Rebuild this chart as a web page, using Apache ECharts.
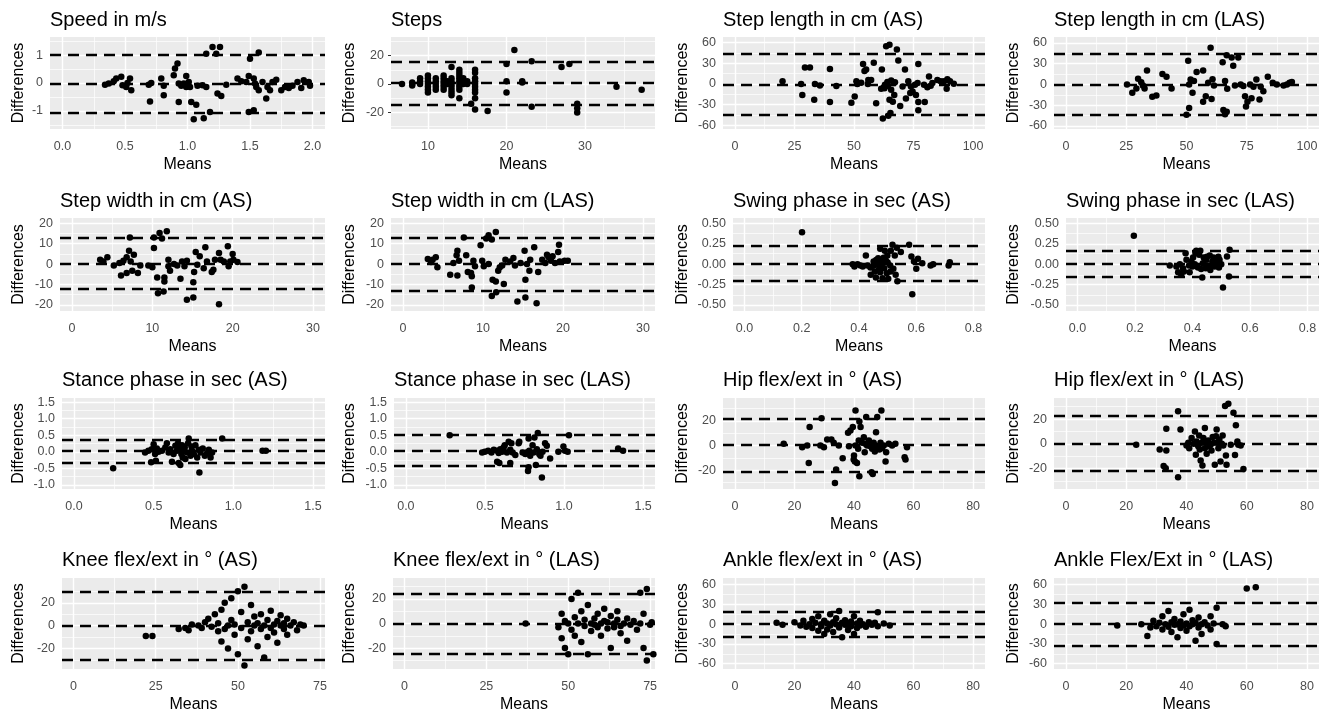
<!DOCTYPE html>
<html><head><meta charset="utf-8">
<script src="https://cdn.jsdelivr.net/npm/echarts@6/dist/echarts.min.js"></script>
<style>html,body{margin:0;padding:0;background:#fff}#c{width:1321px;height:713px}</style>
</head><body><div id="c"></div>
<script>
// ---------------- DATA ----------------
const titles = ["Speed in m/s","Steps","Step length in cm (AS)","Step length in cm (LAS)",
  "Step width in cm (AS)","Step width in cm (LAS)","Swing phase in sec (AS)","Swing phase in sec (LAS)",
  "Stance phase in sec (AS)","Stance phase in sec (LAS)","Hip flex/ext in ° (AS)","Hip flex/ext in ° (LAS)",
  "Knee flex/ext in ° (AS)","Knee flex/ext in ° (LAS)","Ankle flex/ext in ° (AS)","Ankle Flex/Ext in ° (LAS)"];

const xTicks = [[0,0.5,1,1.5,2],[10,20,30],[0,25,50,75,100],[0,25,50,75,100],
  [0,10,20,30],[0,10,20,30],[0,0.2,0.4,0.6,0.8],[0,0.2,0.4,0.6,0.8],
  [0,0.5,1,1.5],[0,0.5,1,1.5],[0,20,40,60,80],[0,20,40,60,80],
  [0,25,50,75],[0,25,50,75],[0,20,40,60,80],[0,20,40,60,80]];
const yTicks = [[-1,0,1],[-20,0,20],[-60,-30,0,30,60],[-60,-30,0,30,60],
  [-20,-10,0,10,20],[-20,-10,0,10,20],[-0.5,-0.25,0,0.25,0.5],[-0.5,-0.25,0,0.25,0.5],
  [-1,-0.5,0,0.5,1,1.5],[-1,-0.5,0,0.5,1,1.5],[-20,0,20],[-20,0,20],
  [-20,0,20],[-20,0,20],[-60,-30,0,30,60],[-60,-30,0,30,60]];
const xDecimals = [1,0,0,0,0,0,1,1,1,1,0,0,0,0,0,0];
const yDecimals = [0,0,0,0,0,0,2,2,1,1,0,0,0,0,0,0];
const xRanges = [[-0.1,2.1],[5.3,38.9],[-5,105],[-5,105],[-1.5,31.5],[-1.5,31.5],[-0.04,0.84],[-0.04,0.84],
  [-0.075,1.575],[-0.075,1.575],[-4,84],[-4,84],[-3.5,76.5],[-3.5,76.5],[-4,84],[-4,84]];
const yRanges = [[-1.65,1.65],[-31.7,33.1],[-65.3,68.3],[-64.5,68.5],[-23,22.6],[-23,22.6],[-0.574,0.566],[-0.574,0.566],
  [-1.125,1.625],[-1.125,1.625],[-35.4,38.7],[-36.5,37],[-38,41.7],[-37,37],[-68,70],[-68,70]];
// limits of agreement: upper, mean, lower
const loa = [[1.02,-0.03,-1.08],[15.6,0.6,-14.4],[43.5,-0.5,-44.5],[44,0,-44],
  [13.0,0.4,-12.2],[13.1,0.1,-12.9],[0.23,0.012,-0.205],[0.175,0.012,-0.15],
  [0.37,0.02,-0.33],[0.5,0.03,-0.43],[22,0.35,-21.3],[22.4,0.4,-21.6],
  [29.5,0,-29.5],[24.5,0,-24.5],[19.5,0,-19.5],[32,0,-32]];

// [mean, difference] pairs
const speed = [[0.34,-0.06],[0.37,-0.02],[0.41,0.06],[0.43,0.16],[0.47,0.22],[0.48,-0.08],[0.51,-0.14],[0.52,0.0],[0.54,0.16],[0.55,-0.26],
 [0.69,-0.06],[0.70,-0.66],[0.71,0.0],[0.79,0.16],[0.81,-0.10],[0.81,-0.44],[0.89,0.28],[0.90,0.52],[0.92,0.70],[0.93,-0.68],
 [0.93,-0.02],[0.95,-0.10],[0.97,-0.02],[0.99,0.25],[0.99,-0.14],[1.01,0.04],[1.02,-0.14],[1.03,-0.68],[1.05,-1.30],[1.07,-0.78],
 [1.08,-0.10],[1.12,-0.08],[1.13,-1.26],[1.15,-0.14],[1.15,1.05],[1.18,-1.04],[1.20,1.29],[1.23,1.05],[1.24,-0.38],[1.26,1.29],
 [1.27,-0.47],[1.31,-0.06],[1.40,0.16],[1.43,0.06],[1.47,0.04],[1.49,0.25],[1.50,0.87],[1.49,-1.04],[1.53,0.16],[1.53,-0.98],
 [1.54,-0.02],[1.55,-0.14],[1.57,1.09],[1.57,-0.26],[1.60,0.04],[1.63,-0.56],[1.64,-0.14],[1.66,-0.26],[1.68,0.04],[1.71,0.12],
 [1.75,-0.26],[1.78,-0.14],[1.81,-0.18],[1.84,-0.10],[1.88,0.04],[1.91,-0.18],[1.93,0.10],[1.97,0.04],[1.98,-0.10]];
const steps = [[6.7,0],[8,1],[8,-1],[8,0],[9,4],[9,0],[9,2],[10,6],[10,4],[10,2],[10,0],[10,-2],[10,-4],[10,-6],
 [11,4],[11,2],[11,0],[11,-2],[11,-4],[12,6],[12,4],[12,2],[12,0],[12,-2],[12,-4],[12.5,2],[12.5,0],
 [13,12],[13,4],[13,2],[13,0],[13,-2],[13,-4],[13,-6],[13,-8],[14,10],[14,8],[14,6],[14,4],[14,2],[14,0],[14,-2],[14,-4],[14,-10],
 [14.5,4],[14.5,0],[15,2],[15,0],[15.5,-14],[16,10],[16,8],[16,4],[16,2],[16,0],[16,-2],[16,-4],[16,-6],[16,-10],[16,-18],
 [17.6,-19],[20,14],[20,2],[20,-6],[21,24],[22,2],[22,1],[23.2,16],[23.2,-16],[27,12],[28,14],[29,-14],[29,-17],[29,-20],[34,-2],[37.2,-4]];
const stepLenAS = [[20,4],[27.8,0],[28.3,-16],[29.4,24],[31.5,24],[33.3,-23],[33.6,0],[35.7,-2],[39.9,22],[39.9,-26],[42.6,-3],[48.9,-27],
 [50.3,-18],[51,4],[51.4,0],[53,2],[53.8,29],[54.4,19],[55.1,21],[55.8,0],[56,6],[57.2,6],[58.3,31],[59.3,-28],[61.7,21],[61.4,-7],
 [62.1,-50],[62.5,-4.5],[63.5,55],[64.2,-2.5],[64.4,-46],[64.9,57],[64.9,-23],[65.3,-42],[65.6,5],[65.6,-8.4],[66.3,-25.7],[66.7,1.5],
 [66.9,-16],[67.2,2.5],[68,50],[68.6,34],[69.4,-32],[70.4,-3.5],[71.4,21],[71.8,-21],[72.8,4],[73.6,-13],[73.9,-3.5],[74.6,-10.9],
 [75.6,-1],[76,-16],[77,29],[77,-26],[77,-38],[76.7,1.5],[79.4,-1],[79.7,-26],[80.8,-4.5],[81.5,11],[82.2,-2.5],[82.9,1.5],[85,6],
 [86.4,4],[87.8,4],[88.9,-7],[89.2,7],[90.3,4],[91.9,0.5],[63,-1],[64,3],[62.8,-6]];
const stepLenLAS = [[25.3,0],[27.5,-12],[29.2,-6],[29.9,8],[31.2,3],[31.9,-1.5],[32.6,-6],[33.6,20],[35.8,-18],[37.5,-16],[40,15],[41.7,11],
 [43.8,-6],[50,-44],[50.7,34],[51.1,-34],[51.1,0],[51.7,7],[52.5,-12],[53.1,4.9],[54.2,18],[56.9,20],[56.9,-25],[58,-17],[59,2.5],
 [60,53],[60.4,-21],[60.8,7.4],[61.4,-1.5],[65,32],[65.3,-37],[66,-43],[66.7,-39.4],[66,4.9],[66.7,42],[66.9,-6.4],[68.75,39],
 [69.4,27],[70.1,-1.5],[71.5,39],[72.5,0],[73.6,-2.5],[74.3,-17],[74.7,-32],[75.3,-25],[76.4,0],[77,-20],[77.8,-3.4],[79,7],
 [80.3,-22],[80.8,-3.4],[81.9,-9.9],[83.75,11],[85.8,2.5],[87.5,0],[90.3,-1.5],[91.7,0],[92.8,2.5],[93.75,3.4]];
const stepWidthAS = [[3.5,2.1],[3.9,1.3],[4.4,3.3],[5.2,-0.7],[5.9,0.5],[6.1,-5.6],[6.4,1.6],[6.8,3.3],[6.8,-4.4],[7.1,6.6],[7.2,13.1],
 [7.3,1.3],[7.5,-3.3],[7.7,4.6],[8.2,-4.4],[8.5,-0.7],[9.5,-0.7],[10,-1.6],[10.2,7.9],[10.2,13.1],[10.6,-6.6],[10.7,-14.3],[10.9,15.2],
 [11.2,12.5],[11.4,-13.4],[11.5,-8.5],[11.5,-6.6],[11.8,16.1],[12,2.1],[12,-1.1],[12.2,-3.3],[12.7,0],[13.1,-0.7],[13.5,-7.2],[13.7,1.3],
 [14,-1.1],[14.3,1.6],[14.3,-17.5],[15.1,-16.4],[15.1,-8.9],[15.2,-3.9],[15.4,5.9],[15.6,-0.3],[15.9,3.8],[16.4,-2],[16.6,8.2],[16.8,1.3],
 [17.4,-3.9],[17.6,-2.8],[17.8,2.1],[18.3,5.4],[18.3,-19.7],[18.5,2.1],[18.9,1.3],[19.4,8.7],[19.5,-1.1],[19.7,1.3],[20,4.9],[20.1,2.1],[20.6,1]];
const stepWidthLAS = [[3.1,2.5],[3.5,1],[3.7,2.1],[4.1,3.3],[4.3,-1.6],[5.9,-5.2],[6.3,0.5],[6.7,4.3],[6.8,6.6],[6.8,-5.6],[7,1.6],[7.6,13.1],
 [7.9,4.3],[8.1,-3.9],[8.5,-4.4],[8.6,-6],[8.6,-11.5],[8.8,1.6],[9,-1.1],[9.7,9.2],[9.9,1.6],[10.1,-1.1],[10.4,12.5],[10.7,14.1],[10.7,0],
 [11.1,12],[11.1,-15.6],[11.2,-7.7],[11.6,-8.5],[11.6,15.7],[11.65,-13.8],[11.9,-3.3],[12.1,-1.6],[12.4,-0.7],[12.6,-9.8],[12.8,2.1],
 [13.4,1.3],[13.8,3],[14,-0.7],[14.3,-18.4],[14.7,0.5],[15.3,-16.4],[15.3,-7.7],[15.2,6.6],[15.5,0],[15.8,-3.3],[15.9,2.1],[16.4,8.2],
 [16.7,-19.2],[16.9,-3.9],[17.4,2.1],[17.8,0.5],[18,4.6],[18.2,3.3],[18.5,1.6],[18.7,3.8],[19,0.5],[19.4,5.9],[19.5,9.5],[19.6,1.3],[20.2,1.6],[20.6,1.6]];
const swingAS = [[0.201,0.39],[0.378,0],[0.384,-0.029],[0.395,0],[0.405,-0.016],[0.413,-0.029],[0.424,0.107],[0.43,-0.016],[0.44,-0.04],
 [0.441,-0.13],[0.451,0.033],[0.455,-0.09],[0.459,-0.164],[0.465,0],[0.467,0.074],[0.474,0.19],[0.474,-0.098],[0.479,0],[0.482,-0.172],
 [0.486,0.08],[0.488,-0.049],[0.49,0.164],[0.494,0.041],[0.497,-0.111],[0.499,0.107],[0.502,-0.18],[0.509,-0.016],[0.511,0.164],
 [0.517,0.238],[0.52,-0.057],[0.525,0.107],[0.528,-0.131],[0.532,0.2],[0.534,-0.21],[0.546,0.148],[0.575,0.238],[0.583,0.094],
 [0.586,-0.37],[0.592,0.033],[0.6,-0.057],[0.606,0.066],[0.621,0.012],[0.65,-0.016],[0.659,0],[0.713,-0.016],[0.717,0.025],
 [0.46,0.05],[0.47,-0.06],[0.48,0.03],[0.5,0.02],[0.51,-0.09],[0.45,-0.02]];
const swingLAS = [[0.196,0.348],[0.321,-0.016],[0.344,-0.029],[0.356,0],[0.361,-0.13],[0.367,-0.049],[0.376,0.135],[0.379,0.053],
 [0.388,-0.016],[0.39,-0.1],[0.396,0.033],[0.402,0.082],[0.408,0],[0.413,0.164],[0.419,-0.041],[0.423,0.115],[0.427,0.164],
 [0.434,-0.164],[0.436,0.012],[0.439,0.082],[0.446,-0.049],[0.448,0.053],[0.454,-0.016],[0.46,0.107],[0.462,-0.07],[0.469,0.033],
 [0.473,0.082],[0.477,-0.029],[0.483,0.066],[0.488,0.012],[0.492,-0.041],[0.494,0.053],[0.5,0],[0.506,-0.287],[0.52,0.094],
 [0.529,0.176],[0.527,-0.152],[0.37,-0.09],[0.35,-0.1],[0.41,0.14],[0.43,-0.06],[0.45,0.09],[0.47,-0.02],[0.49,0.09],[0.4,-0.03]];
const stanceAS = [[0.246,-0.5],[0.446,-0.02],[0.467,0.03],[0.484,-0.32],[0.488,0.08],[0.5,0.23],[0.509,-0.07],[0.514,-0.27],[0.52,0.1],
 [0.531,0],[0.552,0.03],[0.573,0.13],[0.583,0.26],[0.594,-0.02],[0.604,0.08],[0.615,-0.3],[0.625,-0.07],[0.636,0.18],[0.646,0.03],
 [0.653,0.26],[0.657,-0.34],[0.661,0.1],[0.667,-0.4],[0.674,-0.07],[0.678,0.2],[0.682,-0.17],[0.688,0.03],[0.695,0.13],[0.699,-0.22],
 [0.709,-0.02],[0.716,0.26],[0.72,0.4],[0.731,-0.12],[0.737,0.16],[0.741,0.03],[0.752,-0.07],[0.762,0.2],[0.773,-0.17],[0.783,0.06],
 [0.787,-0.63],[0.794,-0.02],[0.808,0.1],[0.821,-0.12],[0.836,-0.04],[0.846,0.06],[0.857,-0.17],[0.867,-0.02],[0.93,0.4],[1.183,0.03],[1.204,0.03]];
const stanceLAS = [[0.277,0.5],[0.482,-0.02],[0.499,0],[0.52,0.03],[0.541,-0.02],[0.556,0.06],[0.577,0.03],[0.577,-0.3],[0.587,-0.04],
 [0.597,0.08],[0.591,-0.34],[0.608,0],[0.618,0.13],[0.625,0.2],[0.639,-0.02],[0.66,0.06],[0.66,-0.34],[0.65,0.3],[0.667,0.26],
 [0.675,-0.02],[0.692,-0.1],[0.713,0.26],[0.717,0.3],[0.738,-0.02],[0.755,-0.07],[0.765,-0.02],[0.772,-0.58],[0.776,-0.47],[0.776,0.4],
 [0.78,0.03],[0.786,-0.12],[0.801,0.2],[0.807,-0.02],[0.813,0.43],[0.822,-0.4],[0.828,0.08],[0.834,0.57],[0.843,-0.07],[0.851,-0.12],
 [0.86,-0.78],[0.864,0],[0.88,0.26],[0.891,0.18],[0.912,-0.2],[0.964,0],[0.996,0.16],[1.006,0.03],[1.023,0],[1.031,0.5],[1.342,0.1],[1.373,0.03]];
const hipAS = [[16.4,1.4],[22.6,-1.4],[24.3,0],[25.1,15],[24.8,-14.2],[29.1,22.3],[28.7,0],[29.9,-1.4],[31,4.9],[32.4,4.9],[33.2,2.2],
 [34,-19.6],[33.6,-30.5],[34.9,0],[36.2,-10.4],[38,10.4],[38.3,-0.5],[38.8,12.3],[39.6,15],[40,-8.2],[39.9,-11.4],[40.3,-13],[40.5,28.6],
 [40.5,0],[41,-14.2],[41.4,-2.7],[41.6,4.1],[41.8,-25],[41.8,19.6],[42.2,15],[42.7,2.2],[43.3,6.8],[43.6,-5.4],[43.8,1.4],[44.1,23.2],
 [44.4,0],[45,4.1],[45.5,-0.5],[45.9,-21.8],[46.1,-2.7],[46.3,-23.2],[46.6,2.2],[47,-4.9],[47.2,0],[47.4,10.9],[47.8,23.2],[48.1,-1.4],
 [48.5,-3.3],[48.9,2.2],[49.2,28.6],[49.4,-2.2],[50,0],[50.6,-13],[50.8,-5.4],[51.7,1.4],[52.8,0],[53.9,1.4],[57,-9.5],[57.3,-11.4],[57.8,-1.4]];
const hipLAS = [[23.3,-0.8],[31.1,-4.6],[32.4,-18],[33.1,-19.7],[33.3,12.2],[33.3,-5.4],[37.2,26.2],[37.2,-27],[38,11.6],[40,-1.4],
 [40.6,0.8],[40.9,-3.5],[41.7,4.6],[42.4,0],[42.8,10],[43.1,-8.9],[43.3,1.9],[43.9,-1.9],[44.2,6.8],[44.4,-4.6],[44.7,-13.5],[45,0.8],
 [45.3,-17.6],[45.6,4.6],[46.1,12.7],[46.1,-3.5],[46.4,0.8],[46.7,-8.1],[47.2,2.7],[47.6,-1.9],[48,-0.8],[48.3,-5.4],[48.7,5.4],
 [49.1,0.8],[49.4,-17],[49.8,6.2],[50,11.6],[50.2,0.8],[50.6,-3.5],[50.9,3.5],[51.3,-14.3],[51.7,0],[52,6.8],[52.2,-1.4],[52.8,30.5],
 [53.1,-9.5],[53.3,-17],[53.9,32.4],[54.7,-0.8],[55.6,25],[56.1,-9],[56.4,14.9],[56.9,1.9],[57.2,-0.8],[58,-1.4],[58.9,-20.3]];
const kneeAS = [[22,-9],[24,-9],[32,-3],[34,-2],[35,-4],[36,1],[38,0],[39,-2],[40,3],[41,6],[42,-1],[43,10],[44,-5],[44,2],[45,-14],
 [45,14],[46,20],[46,-3],[47,0],[47,-20],[48,24],[48,5],[49,-8],[49,1],[50,30],[50,-25],[51,-2],[51,12],[52,34],[52,-35],[53,3],
 [53,-12],[54,18],[54,-5],[55,0],[55,8],[56,-18],[56,2],[57,-3],[57,10],[58,-28],[58,0],[59,5],[59,-10],[60,-2],[60,13],[61,1],
 [61,-6],[62,4],[62,-15],[63,0],[63,9],[64,-3],[64,2],[65,6],[65,-8],[66,0],[67,3],[68,-4],[69,1],[70,0]];
const kneeLAS = [[37,0],[47,-3],[48,-12],[48,8],[49,-20],[49,2],[50,-25],[50,0],[51,20],[51,-5],[52,5],[52,-10],[53,25],[53,0],
 [54,-15],[54,10],[55,-2],[55,3],[56,-25],[56,15],[57,0],[57,-6],[58,4],[58,-1],[59,8],[59,-3],[60,0],[60,-10],[61,2],[61,12],
 [62,-4],[62,1],[63,6],[63,-20],[64,0],[64,-3],[65,3],[65,10],[66,-2],[66,-8],[67,0],[68,4],[68,-14],[69,-1],[70,2],[71,-5],
 [72,25],[72,0],[73,-20],[73,8],[74,-30],[74,28],[75,-1],[76,-25],[75.5,1]];
const ankleAS = [[14,2],[16,-1],[20,3],[22,-2],[23,5],[24,-4],[25,0],[26,8],[26,-6],[27,2],[28,-10],[28,12],[29,0],[29,-3],[30,5],
 [30,-15],[31,1],[31,-8],[32,15],[32,-2],[33,3],[33,-12],[34,0],[34,9],[35,-5],[35,20],[36,2],[36,-20],[37,-1],[37,6],[38,0],
 [38,-9],[39,4],[39,-3],[40,12],[40,-15],[41,1],[41,-6],[42,-2],[42,5],[43,0],[44,-4],[45,3],[46,-1],[47,2],[48,18],[48,-3],[50,1],[52,-2]];
const ankleLAS = [[17,-2],[25,0],[27,-18],[28,-5],[29,5],[30,-3],[31,2],[32,-8],[32,12],[33,0],[34,-4],[34,20],[35,3],[35,-12],
 [36,-1],[36,8],[37,0],[37,-20],[38,4],[38,-6],[39,15],[39,-2],[40,1],[40,-10],[41,22],[41,-3],[42,0],[42,6],[43,-25],[43,2],
 [44,-5],[44,10],[45,0],[45,-15],[46,3],[47,-2],[48,-8],[48,12],[49,1],[50,-30],[50,25],[52,0],[53,-3],[60,54],[63,56]];

const panelData = [speed,steps,stepLenAS,stepLenLAS,stepWidthAS,stepWidthLAS,swingAS,swingLAS,
  stanceAS,stanceLAS,hipAS,hipLAS,kneeAS,kneeLAS,ankleAS,ankleLAS];

// ---------------- LAYOUT ----------------
const FONT = "'Liberation Sans', Arial, sans-serif";
const colRight = [325, 655, 985, 1319];
const rowTop = [37, 218, 398, 578];
const rowBottom = [129, 311, 489, 669];
const panelLeft = [50,391,723,1054, 60,391,733,1066, 62,394,723,1054, 62,393,723,1054];
const yNameX = [19, 350, 683, 1014];
const titleTop = [10, 191, 370, 550];

function minors(ticks, range) {
  const step = ticks[1] - ticks[0];
  const out = [];
  for (let k = -3; k < ticks.length + 3; k++) {
    const v = ticks[0] - step / 2 + k * step;
    if (v > range[0] && v < range[1]) out.push(+v.toFixed(6));
  }
  return out;
}
function inRange(ticks, range) { return ticks.filter(v => v >= range[0] && v <= range[1]); }

const grids = [], xAxes = [], yAxes = [], titleArr = [], series = [];
for (let i = 0; i < 16; i++) {
  const r = Math.floor(i / 4), c = i % 4;
  const left = panelLeft[i], top = rowTop[r];
  grids.push({ left: left, top: top, width: colRight[c] - left, height: rowBottom[r] - top,
    show: true, backgroundColor: '#EBEBEB', borderWidth: 0, containLabel: false, outerBoundsMode: 'none' });
  titleArr.push({ text: titles[i], left: left, top: titleTop[r], padding: 0,
    textStyle: { fontFamily: FONT, fontSize: 20, fontWeight: 'normal', color: '#000' } });
  const xd = xDecimals[i], yd = yDecimals[i];
  xAxes.push({ gridIndex: i, type: 'value', min: xRanges[i][0], max: xRanges[i][1],
    axisLine: { show: false }, splitLine: { show: false },
    axisTick: { show: true, length: 3, customValues: xTicks[i], lineStyle: { color: '#333', width: 1 } },
    axisLabel: { customValues: xTicks[i], color: '#4D4D4D', fontSize: 12.5, fontFamily: FONT, margin: 11,
      formatter: v => Number(v).toFixed(xd) },
    name: 'Means', nameLocation: 'middle', nameGap: 28,
    nameTextStyle: { fontFamily: FONT, fontSize: 16, color: '#000' } });
  yAxes.push({ gridIndex: i, type: 'value', min: yRanges[i][0], max: yRanges[i][1],
    axisLine: { show: false }, splitLine: { show: false },
    axisTick: { show: true, length: 3, customValues: yTicks[i], lineStyle: { color: '#333', width: 1 } },
    axisLabel: { customValues: yTicks[i], color: '#4D4D4D', fontSize: 12.5, fontFamily: FONT, margin: 7,
      formatter: v => Number(v).toFixed(yd) },
    name: 'Differences', nameLocation: 'middle', nameRotate: 90, nameGap: left - yNameX[c] - 8,
    nameTextStyle: { fontFamily: FONT, fontSize: 16, color: '#000' } });

  const gl = [];
  minors(xTicks[i], xRanges[i]).forEach(v => gl.push({ xAxis: v, lineStyle: { width: 0.7 } }));
  minors(yTicks[i], yRanges[i]).forEach(v => gl.push({ yAxis: v, lineStyle: { width: 0.7 } }));
  inRange(xTicks[i], xRanges[i]).forEach(v => gl.push({ xAxis: v, lineStyle: { width: 1.4 } }));
  inRange(yTicks[i], yRanges[i]).forEach(v => gl.push({ yAxis: v, lineStyle: { width: 1.4 } }));
  series.push({ type: 'scatter', xAxisIndex: i, yAxisIndex: i, data: [], z: 1, silent: true,
    markLine: { z: 1, zlevel: 0, silent: true, symbol: ['none', 'none'], animation: false, label: { show: false },
      lineStyle: { color: '#FFFFFF', type: 'solid', opacity: 1 }, emphasis: { disabled: true }, data: gl } });
  series.push({ type: 'scatter', xAxisIndex: i, yAxisIndex: i, data: panelData[i], z: 3,
    symbol: 'circle', symbolSize: 6.5, itemStyle: { color: '#000', opacity: 1 }, silent: true });
  series.push({ type: 'scatter', xAxisIndex: i, yAxisIndex: i, data: [], z: 4, silent: true,
    markLine: { z: 5, silent: true, symbol: ['none', 'none'], animation: false, label: { show: false },
      lineStyle: { color: '#000', type: [11, 7], width: 2.4, opacity: 1 }, emphasis: { disabled: true },
      data: loa[i].map(v => ({ yAxis: v })) } });
}

const chart = echarts.init(document.getElementById('c'), null, { renderer: 'canvas' });
chart.setOption({ animation: false, backgroundColor: '#FFFFFF', title: titleArr, grid: grids,
  xAxis: xAxes, yAxis: yAxes, series: series });
</script></body></html>
